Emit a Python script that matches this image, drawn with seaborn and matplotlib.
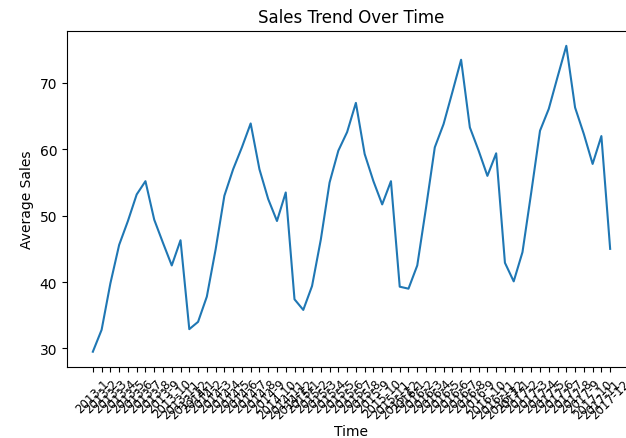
import matplotlib
matplotlib.use('Agg')
import matplotlib.pyplot as plt
import seaborn as sns
import pandas as pd

# monthly average sales, 2013-1 .. 2017-12
months = ['{}-{}'.format(y, m) for y in range(2013, 2018) for m in range(1, 13)]
sales_2013 = [29.5, 32.8, 39.8, 45.6, 49.2, 53.2, 55.2, 49.4, 45.9, 42.5, 46.3, 32.9]
sales_2014 = [34.0, 37.8, 44.9, 53.0, 57.0, 60.3, 63.9, 57.0, 52.5, 49.2, 53.5, 37.4]
sales_2015 = [35.8, 39.4, 46.4, 55.0, 59.8, 62.6, 67.0, 59.3, 55.2, 51.7, 55.2, 39.3]
sales_2016 = [39.0, 42.5, 51.2, 60.3, 63.8, 68.6, 73.5, 63.3, 59.8, 56.0, 59.4, 42.9]
sales_2017 = [40.1, 44.5, 53.5, 62.8, 66.1, 70.9, 75.6, 66.3, 62.3, 57.8, 62.0, 45.0]

sales = sales_2013 + sales_2014 + sales_2015 + sales_2016 + sales_2017
df = pd.DataFrame({'Time': months, 'Average Sales': sales})

fig = plt.figure(figsize=(6.26, 4.39), dpi=100)
ax = fig.add_axes([0.107, 0.1617, 0.909, 0.7665])
# keep month order (no string sorting)
sns.lineplot(data=df, x='Time', y='Average Sales', ax=ax, sort=False)
ax.set_title('Sales Trend Over Time')
plt.xticks(rotation=45, fontsize=8.5)
ax.set_xlabel('Time', labelpad=2)
ax.set_yticks([30, 40, 50, 60, 70])

fig.savefig('out.png', dpi=100)
